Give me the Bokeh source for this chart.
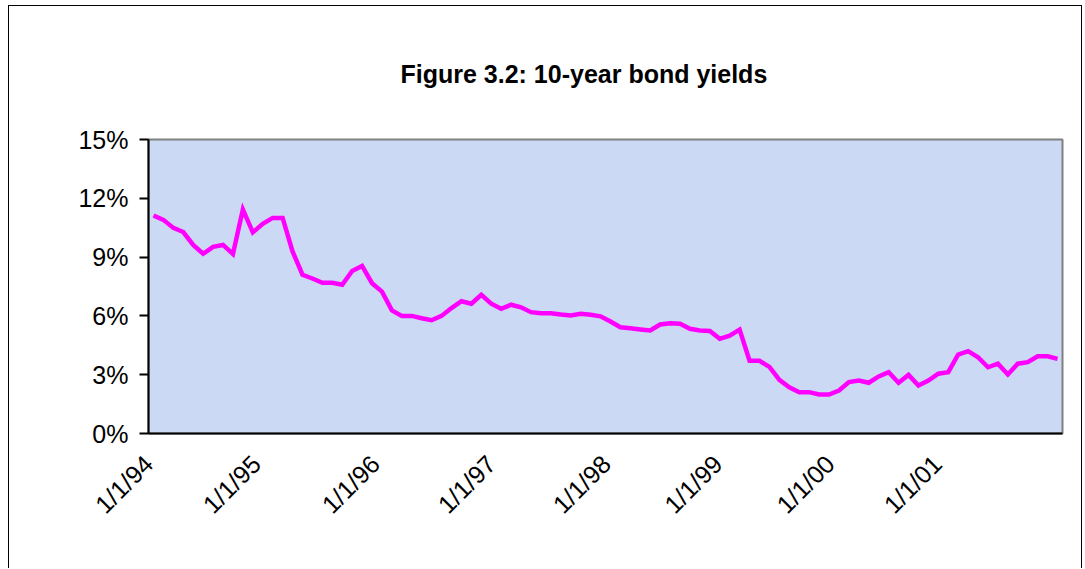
import math

from bokeh.embed import file_html
from bokeh.models import FixedTicker, PrintfTickFormatter, Range1d
from bokeh.plotting import figure
from bokeh.resources import INLINE

# Monthly 10-year bond yields (%), in order of observation
yields = [
    11.12, 10.90, 10.49, 10.28, 9.62, 9.17, 9.52, 9.62, 9.16, 11.43,
    10.26, 10.70, 11.00, 11.00, 9.29, 8.10, 7.91, 7.69, 7.69, 7.59,
    8.29, 8.55, 7.67, 7.24, 6.28, 6.00, 6.00, 5.88, 5.78, 6.00,
    6.40, 6.75, 6.62, 7.08, 6.62, 6.36, 6.57, 6.44, 6.19, 6.14,
    6.14, 6.07, 6.02, 6.11, 6.06, 5.98, 5.71, 5.42, 5.37, 5.31,
    5.26, 5.56, 5.63, 5.60, 5.34, 5.26, 5.23, 4.83, 4.99, 5.30,
    3.71, 3.71, 3.40, 2.74, 2.36, 2.11, 2.11, 1.99, 1.99, 2.19,
    2.62, 2.70, 2.59, 2.91, 3.13, 2.59, 2.99, 2.45, 2.70, 3.05,
    3.13, 4.03, 4.20, 3.89, 3.38, 3.56, 3.01, 3.56, 3.64, 3.94,
    3.94, 3.81,
]
periods = list(range(len(yields)))

# Date labels and the observation positions where they sit on the axis
date_labels = ["1/1/94", "1/1/95", "1/1/96", "1/1/97",
               "1/1/98", "1/1/99", "1/1/00", "1/1/01"]
date_positions = [-0.5, 10.35, 22.33, 34.0, 45.58, 56.8, 68.1, 78.9]

y_ticks = [0, 3, 6, 9, 12, 15]

FONT = "Liberation Sans"
LABEL_SIZE = "25px"

p = figure(
    width=1074, height=563,
    x_range=Range1d(-0.5, len(yields) - 0.5),
    y_range=Range1d(0, 15),
    output_backend="svg", toolbar_location=None,
    min_border_left=139, min_border_right=21,
    min_border_top=133, min_border_bottom=136,
    title="Figure 3.2: 10-year bond yields",
)
p.styles = {
    "margin-left": "8px", "margin-top": "5px",
    "border-left": "1px solid black",
    "border-top": "1px solid black",
    "border-right": "1px solid black",
}

xax = p.below[0]
yax = p.left[0]

p.title.text_font = FONT
p.title.text_font_size = "25px"
p.title.text_font_style = "bold"
p.title.text_color = "black"
p.title.align = "left"
p.title.offset = 252
p.title.standoff = 103

p.background_fill_color = "#cbd9f5"
p.border_fill_color = "white"
p.outline_line_color = "#808080"
p.outline_line_width = 2
p.grid.visible = False

# Vertical axis: percentage ticks every 3 points
yax.ticker = FixedTicker(ticks=y_ticks)
yax.formatter = PrintfTickFormatter(format="%d%%")
yax.axis_line_color = "black"
yax.axis_line_width = 2
yax.major_tick_line_color = "black"
yax.major_tick_line_width = 2
yax.major_tick_out = 9
yax.major_tick_in = 0
yax.minor_tick_line_color = None
yax.major_label_text_font = FONT
yax.major_label_text_font_size = LABEL_SIZE
yax.major_label_text_color = "black"
yax.major_label_standoff = 11

# Horizontal axis: slanted date labels, no tick marks
xax.ticker = FixedTicker(ticks=date_positions)
xax.major_label_overrides = dict(zip(date_positions, date_labels))
xax.axis_line_color = "black"
xax.axis_line_width = 2
xax.major_tick_line_color = None
xax.major_tick_out = 0
xax.major_tick_in = 0
xax.minor_tick_line_color = None
xax.major_label_orientation = math.pi / 4
xax.major_label_text_font = FONT
xax.major_label_text_font_size = LABEL_SIZE
xax.major_label_text_color = "black"
xax.major_label_standoff = 26

p.line(periods, yields, line_color="#ff00ff", line_width=4.5, line_join="miter")

open("out.html", "w").write(file_html(p, INLINE))
